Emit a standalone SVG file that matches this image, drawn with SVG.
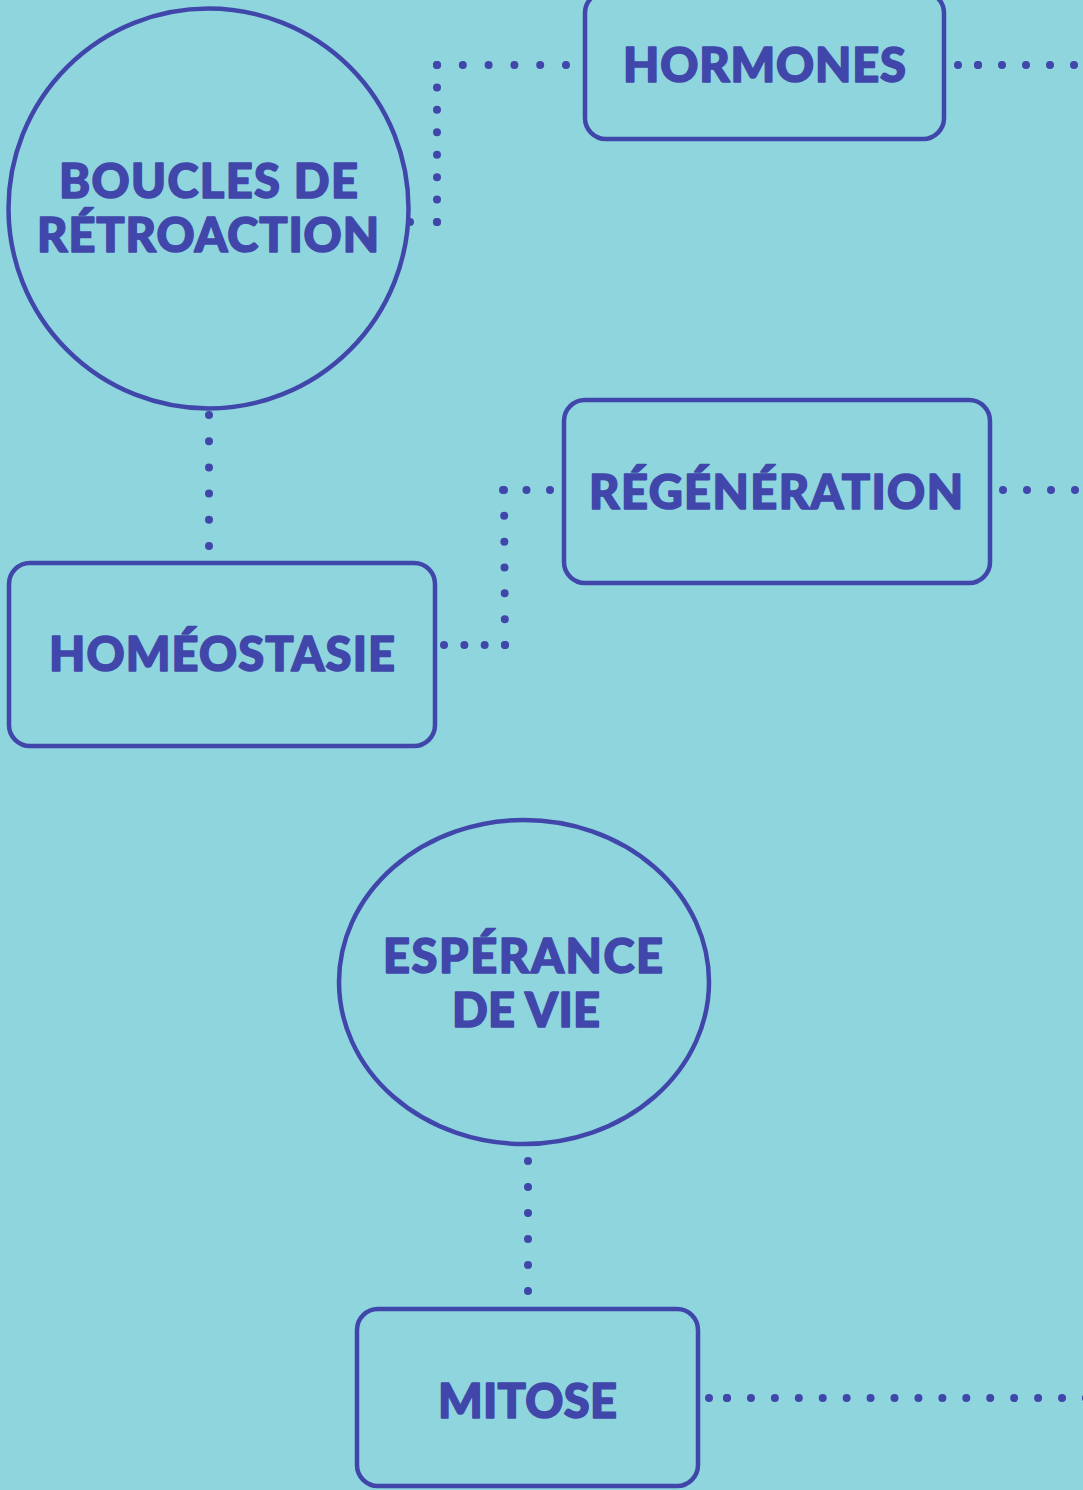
<svg xmlns="http://www.w3.org/2000/svg" width="1083" height="1490" viewBox="0 0 1083 1490">
<style>
.bg{fill:#8fd5dd}
.shape{fill:none;stroke:#4147aa;stroke-width:4.5}
.lbl{font-family:Lato,"Open Sans","DejaVu Sans",sans-serif;font-weight:900;font-size:47px;fill:#4147aa;stroke:#4147aa;stroke-width:1.6;stroke-linejoin:round;text-anchor:middle}
.dot{stroke:#4147aa;stroke-width:8;stroke-linecap:round;fill:none}
</style>
<rect class="bg" x="0" y="0" width="1083" height="1490"/>
<g id="connectors">
<line class="dot" x1="566" y1="65" x2="436" y2="65" stroke-dasharray="0 25.8"/>
<line class="dot" x1="437" y1="65" x2="437" y2="223" stroke-dasharray="0 22.43"/>
<line class="dot" x1="437" y1="222" x2="409" y2="222" stroke-dasharray="0 27"/>
<line class="dot" x1="958" y1="65" x2="979" y2="65" stroke-dasharray="0 20"/>
<line class="dot" x1="978" y1="65" x2="1098" y2="65" stroke-dasharray="0 24"/>
<line class="dot" x1="209" y1="415" x2="209" y2="547" stroke-dasharray="0 26.2"/>
<line class="dot" x1="550" y1="490" x2="502" y2="490" stroke-dasharray="0 23.5"/>
<line class="dot" x1="504" y1="490" x2="505" y2="646" stroke-dasharray="0 25.83"/>
<line class="dot" x1="505" y1="645" x2="443" y2="645" stroke-dasharray="0 20.33"/>
<line class="dot" x1="1003" y1="490" x2="1099" y2="490" stroke-dasharray="0 24"/>
<line class="dot" x1="528" y1="1161" x2="528" y2="1292" stroke-dasharray="0 26"/>
<line class="dot" x1="709" y1="1398" x2="728" y2="1398" stroke-dasharray="0 18"/>
<line class="dot" x1="727" y1="1398" x2="1110" y2="1398" stroke-dasharray="0 23.93"/>
</g>
<g id="node-boucles">
<circle class="shape" cx="208.5" cy="208.5" r="200"/>
<text class="lbl" x="208.5" y="198" textLength="299">BOUCLES DE</text>
<text class="lbl" x="208" y="252" textLength="342">RÉTROACTION</text>
</g>
<g id="node-hormones">
<rect class="shape" x="585" y="-8" width="359" height="147" rx="21"/>
<text class="lbl" x="764.5" y="82" textLength="283">HORMONES</text>
</g>
<g id="node-regeneration">
<rect class="shape" x="564" y="400" width="426" height="183" rx="21"/>
<text class="lbl" x="776" y="509" textLength="374">RÉGÉNÉRATION</text>
</g>
<g id="node-homeostasie">
<rect class="shape" x="9" y="563" width="426" height="183" rx="21"/>
<text class="lbl" x="222" y="671" textLength="346">HOMÉOSTASIE</text>
</g>
<g id="node-esperance">
<ellipse class="shape" cx="524" cy="982" rx="185" ry="162"/>
<text class="lbl" x="523" y="973" textLength="280">ESPÉRANCE</text>
<text class="lbl" x="526" y="1027" textLength="148">DE VIE</text>
</g>
<g id="node-mitose">
<rect class="shape" x="357" y="1309" width="341" height="177" rx="21"/>
<text class="lbl" x="527.5" y="1418" textLength="179">MITOSE</text>
</g>
</svg>
